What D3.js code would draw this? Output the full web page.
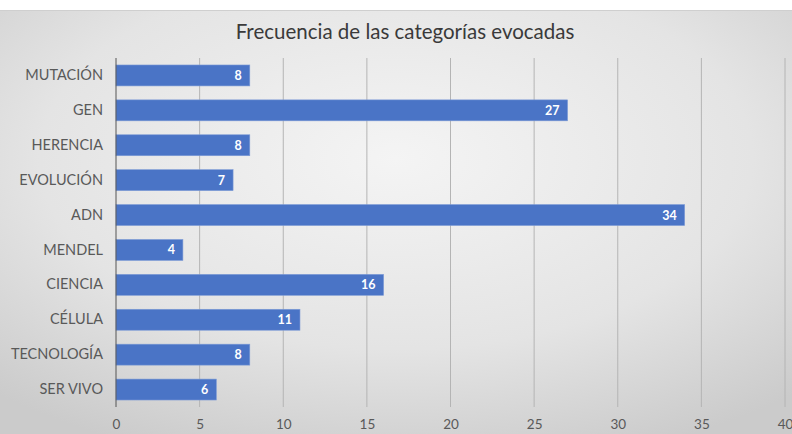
<!DOCTYPE html>
<html>
<head>
<meta charset="utf-8">
<script src="https://cdn.jsdelivr.net/npm/d3@7"></script>
<style>
  body { margin: 0; background: #fff; }
  text { font-family: Lato, "Open Sans", sans-serif; }
</style>
</head>
<body>
<script>
// categories top to bottom and their counts
var categories = ["MUTACIÓN", "GEN", "HERENCIA", "EVOLUCIÓN", "ADN", "MENDEL", "CIENCIA", "CÉLULA", "TECNOLOGÍA", "SER VIVO"];
var counts = [8, 27, 8, 7, 34, 4, 16, 11, 8, 6];
var ticks = [0, 5, 10, 15, 20, 25, 30, 35, 40];

var width = 792, height = 434;
var margin = {top: 58, right: 7, bottom: 27, left: 116};

var svg = d3.select("body").append("svg")
    .attr("width", width)
    .attr("height", height);

// grey radial background like the office chart area
var defs = svg.append("defs");
var grad = defs.append("radialGradient").attr("id", "bg")
    .attr("cx", "50%").attr("cy", "35%").attr("r", "75%");
grad.append("stop").attr("offset", "0%").attr("stop-color", "#f4f4f4");
grad.append("stop").attr("offset", "60%").attr("stop-color", "#e4e4e4");
grad.append("stop").attr("offset", "100%").attr("stop-color", "#cbcbcb");

svg.append("rect").attr("x", 0).attr("y", 10).attr("width", width).attr("height", height - 10)
    .attr("fill", "url(#bg)");
svg.append("line").attr("x1", 0).attr("x2", width).attr("y1", 10.5).attr("y2", 10.5)
    .attr("stroke", "#cfcfcf");

svg.append("text")
    .attr("x", 405).attr("y", 39)
    .attr("text-anchor", "middle")
    .style("font-size", "20.5px")
    .style("fill", "#3a3a3a")
    .text("Frecuencia de las categorías evocadas");

var x = d3.scaleLinear().domain([0, 40]).range([margin.left, width - margin.right]);
var y = d3.scaleBand().domain(categories).range([margin.top, height - margin.bottom]).paddingInner(0.4).paddingOuter(0.2);

// vertical gridlines
svg.append("g").selectAll("line")
    .data(ticks.slice(1))
  .enter().append("line")
    .attr("x1", function(d) { return x(d); })
    .attr("x2", function(d) { return x(d); })
    .attr("y1", margin.top)
    .attr("y2", height - margin.bottom)
    .attr("stroke", "#b4b4b4")
    .attr("stroke-width", 1);

// bars
svg.append("g").selectAll("rect")
    .data(categories)
  .enter().append("rect")
    .attr("x", x(0))
    .attr("y", function(d) { return y(d); })
    .attr("width", function(d, i) { return x(counts[i]) - x(0); })
    .attr("height", y.bandwidth())
    .attr("fill", "#4a74c6")
    .attr("stroke", "#7d9bd6")
    .attr("stroke-width", 0.6);

// value labels
svg.append("g").selectAll("text")
    .data(categories)
  .enter().append("text")
    .attr("x", function(d, i) { return x(counts[i]) - 8; })
    .attr("y", function(d) { return y(d) + y.bandwidth() / 2; })
    .attr("dy", "0.36em")
    .attr("text-anchor", "end")
    .style("font-size", "12.5px")
    .style("font-weight", "bold")
    .style("fill", "#ffffff")
    .text(function(d, i) { return counts[i]; });

// category axis
var yAxis = svg.append("g")
    .attr("transform", "translate(" + x(0) + ",0)")
    .call(d3.axisLeft(y).tickSize(0).tickPadding(13));
yAxis.select(".domain").attr("stroke", "#555").attr("d", "M0," + margin.top + "V" + (height - margin.bottom));
yAxis.selectAll("text").style("font-size", "14.5px").style("fill", "#595959");

// value axis
var xAxis = svg.append("g")
    .attr("transform", "translate(0," + (height - margin.bottom) + ")")
    .call(d3.axisBottom(x).tickValues(ticks).tickSize(0).tickPadding(12));
xAxis.select(".domain").remove();
xAxis.selectAll("text").style("font-size", "13.5px").style("fill", "#595959");
</script>
</body>
</html>
